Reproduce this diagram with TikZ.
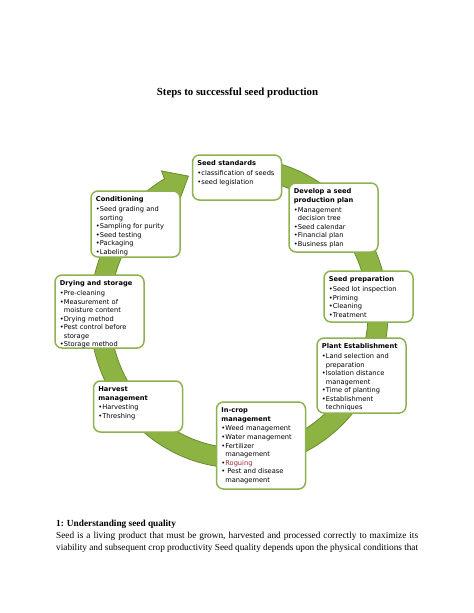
\documentclass[tikz,border=0pt]{standalone}
\usepackage{fontspec}
\setmainfont{Liberation Serif}
\newfontfamily\boxfont{DejaVu Sans}
\usepackage{tikz}
\usetikzlibrary{positioning}
\definecolor{bandgreen}{RGB}{141,180,66}
\definecolor{banddark}{RGB}{104,140,45}
\definecolor{boxgreen}{RGB}{141,178,80}
\definecolor{roguered}{RGB}{160,40,50}
\newlength\px
\setlength\px{1.291pt}

\begin{document}
\begin{tikzpicture}[
			x=\px, y=-\px,
			stepbox/.style={draw=boxgreen, line width=1.5\px, fill=white, rounded corners=7\px, inner sep=0pt, minimum width=89\px},
			steptext/.style={inner sep=0pt, align=left, font=\boxfont\fontsize{8.6}{11}\selectfont}
		]

		\fill[white] (0,0) rectangle (474,613);
		\useasboundingbox (0,0) rectangle (474,613);

		% --- Title ---
		\node[font=\fontsize{14}{16}\selectfont\bfseries] (title) at (237.5,93) {Steps to successful seed production};

		% --- Circular arrow ---
		\fill[bandgreen, draw=banddark, line width=0.8\px]
		(239,313) ++(-85:149 and 155) arc[start angle=-85, end angle=240, x radius=149, y radius=155]
		-- (161.5,170.9) -- (188.4,176.1) -- (178.5,203) -- (174.5,196.1)
		arc[start angle=240, end angle=-85, x radius=129, y radius=135] -- cycle;

		% --- Steps ---
		\node[stepbox, minimum height=45\px] (std) at (237,177.5) {};
		\node[steptext, below right=6.5\px and 5.5\px of std.north west] (std-t)
		{\textbf{Seed standards}\\[1.5pt]
			•classification of seeds\\
			•seed legislation};

		\node[stepbox, minimum height=69\px] (dev) at (333.5,217.5) {};
		\node[steptext, below right=6.5\px and 5.5\px of dev.north west] (dev-t)
		{\textbf{Develop a seed}\\
			\textbf{production plan}\\[1.5pt]
			•Management\\
			\hphantom{•}decision tree\\
			•Seed calendar\\
			•Financial plan\\
			•Business plan};

		\node[stepbox, minimum height=51\px] (prep) at (368.5,296.5) {};
		\node[steptext, below right=6.5\px and 5.5\px of prep.north west] (prep-t)
		{\textbf{Seed preparation}\\[1.5pt]
			•Seed lot inspection\\
			•Priming\\
			•Cleaning\\
			•Treatment};

		\node[stepbox, minimum height=75\px] (plant) at (361.5,375.5) {};
		\node[steptext, below right=6.5\px and 5.5\px of plant.north west] (plant-t)
		{\textbf{Plant Establishment}\\[1.5pt]
			•Land selection and\\
			\hphantom{•}preparation\\
			•Isolation distance\\
			\hphantom{•}management\\
			•Time of planting\\
			•Establishment\\
			\hphantom{•}techniques};

		\node[stepbox, minimum height=87\px] (incrop) at (261,445.5) {};
		\node[steptext, below right=6.5\px and 5.5\px of incrop.north west] (incrop-t)
		{\textbf{In-crop}\\
			\textbf{management}\\[1.5pt]
			•Weed management\\
			•Water management\\
			•Fertilizer\\
			\hphantom{•}management\\
			•\textcolor{roguered}{Roguing}\\
			• Pest and disease\\
			\hphantom{•}management};

		\node[stepbox, minimum height=51\px] (harv) at (138,406.5) {};
		\node[steptext, below right=6.5\px and 5.5\px of harv.north west] (harv-t)
		{\textbf{Harvest}\\
			\textbf{management}\\[1.5pt]
			•Harvesting\\
			•Threshing};

		\node[stepbox, minimum height=73\px] (dry) at (99.5,311.5) {};
		\node[steptext, below right=6.5\px and 5.5\px of dry.north west] (dry-t)
		{\textbf{Drying and storage}\\[1.5pt]
			•Pre-cleaning\\
			•Measurement of\\
			\hphantom{•}moisture content\\
			•Drying method\\
			•Pest control before\\
			\hphantom{•}storage\\
			•Storage method};

		\node[stepbox, minimum height=66\px] (cond) at (135.5,224) {};
		\node[steptext, below right=6.5\px and 5.5\px of cond.north west] (cond-t)
		{\textbf{Conditioning}\\[1.5pt]
			•Seed grading and\\
			\hphantom{•}sorting\\
			•Sampling for purity\\
			•Seed testing\\
			•Packaging\\
			•Labeling};

		% --- Text below ---
		\node[anchor=north west, inner sep=0pt, align=left, font=\fontsize{12}{15.5}\selectfont] (body) at (56,519.5)
		{\textbf{1: Understanding seed quality}\\
			\makebox[362\px][s]{Seed is a living product that must be grown, harvested and processed correctly to maximize its}\\
			\makebox[362\px][s]{viability and subsequent crop productivity Seed quality depends upon the physical conditions that}};

	\end{tikzpicture}
\end{document}
